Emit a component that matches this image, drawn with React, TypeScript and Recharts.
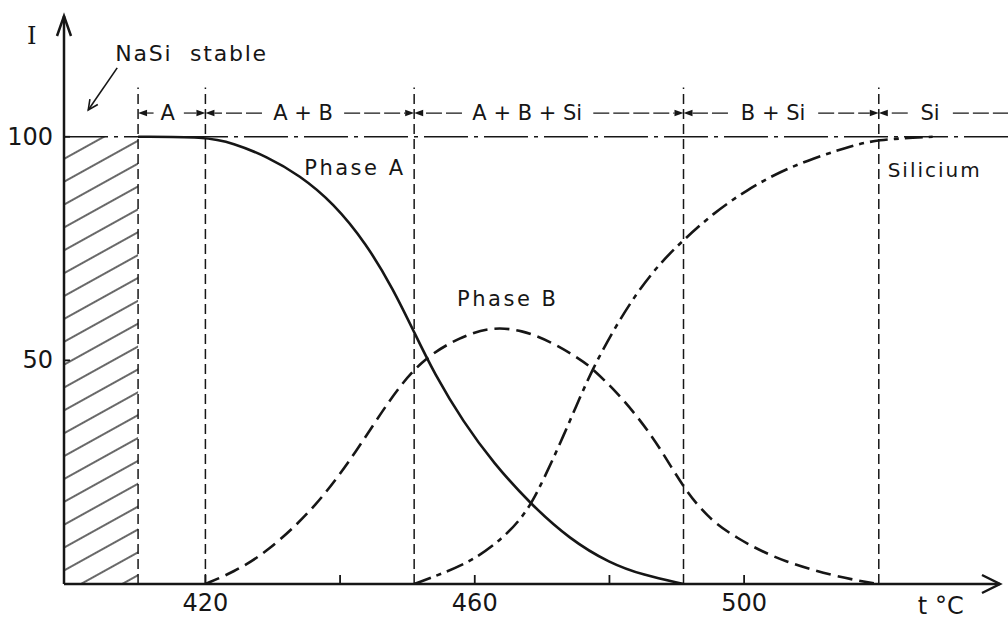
import React from 'react';
import { LineChart, Line, XAxis, YAxis, ReferenceLine, ReferenceArea, ReferenceDot } from 'recharts';

// ---- data (temperature °C, intensity I) ----
const phaseAT = [410, 420, 424.1, 429.1, 434, 439, 443.9, 447.9, 451, 454, 458.3, 462.8, 468.2, 474.1, 480.1, 485, 491];
const phaseAI = [100, 100, 98.6, 95.6, 91.4, 85.2, 76.1, 65.9, 56.3, 47, 36.2, 27, 18, 10, 4.6, 2, 0];

const phaseBT = [420, 424.1, 429.1, 436.5, 442.6, 447, 451.9, 457.9, 462.5, 467, 471.3, 475.6, 477.4, 481, 484.2, 487.5, 491, 494.5, 498.5, 505.9, 516, 520];
const phaseBI = [0, 2.6, 7, 17.3, 30, 40.5, 50.1, 55.3, 57.5, 56.8, 54.2, 50.3, 48.3, 43, 37.4, 30.5, 21.5, 15, 10.5, 4.7, 0.9, 0];

const siliciumT = [451, 455.3, 459.8, 464.2, 466.7, 468.4, 470.2, 472.7, 475.1, 477.4, 480.6, 484, 487.5, 490.7, 495.4, 500.4, 505.3, 510.3, 515.2, 519.5, 528];
const siliciumI = [0, 2.4, 5.3, 10.3, 14.3, 18, 23.3, 31.5, 39.9, 47.8, 56.8, 65, 71.7, 76.5, 82.9, 88.1, 92.2, 95.2, 97.6, 99.4, 100];

const xTicks = [420, 440, 460, 480, 500];
const xLabeledTicks = [420, 460, 500];
const yTicks = [50, 100];
const boundaries = [410, 420, 451, 491, 520];
const regionLabels = ['A', 'A + B', 'A + B + Si', 'B + Si', 'Si'];

// annotation layout (data units)
const X_MIN = 399;
const X_MAX = 538;
const Y_MAX = 127;
const ROW_Y = 105.3;
const BOUND_TOP = 111;
const regionLayout = [
  { cx: 414.4, l: 412.3, r: 416.8, from: 410, to: 420, head: true },
  { cx: 434.5, l: 428.4, r: 440.6, from: 420, to: 451, head: true },
  { cx: 467.8, l: 458.1, r: 477.6, from: 451, to: 491, head: true },
  { cx: 504.3, l: 497.6, r: 511.0, from: 491, to: 520, head: true },
  { cx: 527.6, l: 524.3, r: 531.0, from: 520, to: 539.2, head: false },
];

const toRows = (ts: number[], vs: number[]) => ts.map((t, i) => ({ t, v: vs[i] }));
const phaseA = toRows(phaseAT, phaseAI);
const phaseB = toRows(phaseBT, phaseBI);
const silicium = toRows(siliciumT, siliciumI);

const INK = '#161616';
const FONT = 'DejaVu Sans';

const textShape = (txt: string, size: number, anchor: string = 'middle', spacing = 0, family = FONT) => (p: any) => (
  <text
    x={p.cx}
    y={p.cy}
    textAnchor={anchor as any}
    dominantBaseline="central"
    fontFamily={family}
    fontSize={size}
    letterSpacing={spacing}
    fill={INK}
    style={{ whiteSpace: 'pre' }}
  >
    {txt}
  </text>
);

const arrowSeg = (head: boolean, dash: string) => (p: any) => {
  const { x1, y1, x2, y2 } = p;
  const dir = x2 >= x1 ? 1 : -1;
  const hl = 9;
  if (!head) {
    return <line x1={x1} y1={y1} x2={x2} y2={y2} stroke={INK} strokeWidth={1.2} strokeDasharray={dash} />;
  }
  return (
    <g>
      <line x1={x1} y1={y1} x2={x2 - dir * hl} y2={y2} stroke={INK} strokeWidth={1.2} strokeDasharray={dash} />
      <polygon points={`${x2},${y2} ${x2 - dir * hl},${y2 - 3.2} ${x2 - dir * hl},${y2 + 3.2}`} fill={INK} />
    </g>
  );
};

const pointerArrow = (p: any) => {
  const { x1, y1, x2, y2 } = p;
  const ang = Math.atan2(y2 - y1, x2 - x1);
  const L = 11;
  const w = 0.45;
  const ax = x2 - L * Math.cos(ang - w);
  const ay = y2 - L * Math.sin(ang - w);
  const bx = x2 - L * Math.cos(ang + w);
  const by = y2 - L * Math.sin(ang + w);
  return (
    <g fill="none" stroke={INK} strokeWidth={1.6}>
      <line x1={x1} y1={y1} x2={x2} y2={y2} />
      <path d={`M${ax},${ay} L${x2},${y2} L${bx},${by}`} />
    </g>
  );
};

const xArrowHead = (p: any) => (
  <path d={`M${p.cx - 18},${p.cy - 9} L${p.cx},${p.cy} L${p.cx - 18},${p.cy + 9}`} fill="none" stroke={INK} strokeWidth={2.5} />
);
const yArrowHead = (p: any) => (
  <path d={`M${p.cx - 7},${p.cy + 20} L${p.cx},${p.cy} L${p.cx + 7},${p.cy + 20}`} fill="none" stroke={INK} strokeWidth={2.5} />
);

const XTick = (p: any) => {
  const { x, y, payload } = p;
  const v = payload.value;
  return (
    <g>
      <line x1={x} y1={y} x2={x} y2={y - 9} stroke={INK} strokeWidth={1.8} />
      {xLabeledTicks.includes(v) && (
        <text x={x} y={y + 19} textAnchor="middle" dominantBaseline="central" fontFamily={FONT} fontSize={24} fill={INK}>
          {v}
        </text>
      )}
    </g>
  );
};

const YTick = (p: any) => {
  const { x, y, payload } = p;
  return (
    <g>
      <line x1={x} y1={y} x2={x + 6} y2={y} stroke={INK} strokeWidth={1.8} />
      <text x={x - 11} y={y} textAnchor="end" dominantBaseline="central" fontFamily={FONT} fontSize={24} fill={INK}>
        {payload.value}
      </text>
    </g>
  );
};

export default function App() {
  return (
    <div style={{ position: 'absolute', left: 0, top: 0, width: 1008, height: 621, background: '#fff' }}>
      <LineChart width={1008} height={621} margin={{ top: 16, right: 8, bottom: 0, left: 0 }}>
        <defs>
          <pattern id="hatch" patternUnits="userSpaceOnUse" width="12" height="20" patternTransform="rotate(-29)">
            <line x1="0" y1="10" x2="12" y2="10" stroke={INK} strokeWidth="1.3" />
          </pattern>
        </defs>
        <XAxis
          dataKey="t"
          type="number"
          domain={[X_MIN, X_MAX]}
          ticks={xTicks}
          height={37}
          tickSize={0}
          tickMargin={0}
          tickLine={false}
          axisLine={{ stroke: INK, strokeWidth: 2.5 }}
          tick={<XTick />}
          allowDataOverflow
        />
        <YAxis
          type="number"
          domain={[0, Y_MAX]}
          ticks={yTicks}
          width={64}
          tickSize={0}
          tickMargin={0}
          tickLine={false}
          axisLine={{ stroke: INK, strokeWidth: 2.5 }}
          tick={<YTick />}
          allowDataOverflow
        />

        <ReferenceArea x1={X_MIN} x2={boundaries[0]} y1={0} y2={100} fill="url(#hatch)" fillOpacity={1} stroke="none" />

        {boundaries.map((b) => (
          <ReferenceLine
            key={'b' + b}
            segment={[{ x: b, y: 0 }, { x: b, y: BOUND_TOP }]}
            stroke={INK}
            strokeWidth={1.5}
            strokeDasharray="10 5"
            ifOverflow="visible"
          />
        ))}

        <ReferenceLine
          segment={[{ x: X_MIN, y: 100 }, { x: 539.2, y: 100 }]}
          stroke={INK}
          strokeWidth={1.7}
          strokeDasharray="44 6 4 6"
          ifOverflow="visible"
        />

        {regionLayout.map((r, i) => (
          <ReferenceLine
            key={'rl' + i}
            segment={[{ x: r.l, y: ROW_Y }, { x: r.from, y: ROW_Y }]}
            ifOverflow="visible"
            shape={arrowSeg(true, i === 0 ? '' : '16 4')}
          />
        ))}
        {regionLayout.map((r, i) => (
          <ReferenceLine
            key={'rr' + i}
            segment={[{ x: r.r, y: ROW_Y }, { x: r.to, y: ROW_Y }]}
            ifOverflow="visible"
            shape={arrowSeg(r.head, i === 0 ? '' : '16 4')}
          />
        ))}
        {regionLayout.map((r, i) => (
          <ReferenceDot key={'rt' + i} x={r.cx} y={ROW_Y} ifOverflow="visible" shape={textShape(regionLabels[i], 21)} />
        ))}

        <Line data={phaseA} dataKey="v" stroke={INK} strokeWidth={2.6} type="basis" dot={false} activeDot={false} isAnimationActive={false} />
        <Line data={phaseB} dataKey="v" stroke={INK} strokeWidth={2.6} strokeDasharray="15 7" type="basis" dot={false} activeDot={false} isAnimationActive={false} />
        <Line data={silicium} dataKey="v" stroke={INK} strokeWidth={2.6} strokeDasharray="18 6 5 6" type="basis" dot={false} activeDot={false} isAnimationActive={false} />

        <ReferenceDot x={442.2} y={93} ifOverflow="visible" shape={textShape('Phase A', 21, 'middle', 2.5)} />
        <ReferenceDot x={464.9} y={63.7} ifOverflow="visible" shape={textShape('Phase B', 21, 'middle', 2.5)} />
        <ReferenceDot x={528.3} y={92.6} ifOverflow="visible" shape={textShape('Silicium', 20, 'middle', 2)} />
        <ReferenceDot x={406.6} y={118.7} ifOverflow="visible" shape={textShape('NaSi  stable', 22, 'start', 1.8)} />
        <ReferenceLine segment={[{ x: 406.9, y: 115.4 }, { x: 402.6, y: 106.0 }]} ifOverflow="visible" shape={pointerArrow} />

        <ReferenceDot x={394.2} y={122.5} ifOverflow="visible" shape={textShape('I', 24, 'middle', 0, 'DejaVu Serif')} />
        <ReferenceDot x={529.2} y={-4.9} ifOverflow="visible" shape={textShape('t °C', 24)} />

        <ReferenceDot x={X_MAX} y={0} ifOverflow="visible" shape={xArrowHead} />
        <ReferenceDot x={X_MIN} y={Y_MAX} ifOverflow="visible" shape={yArrowHead} />
      </LineChart>
    </div>
  );
}
